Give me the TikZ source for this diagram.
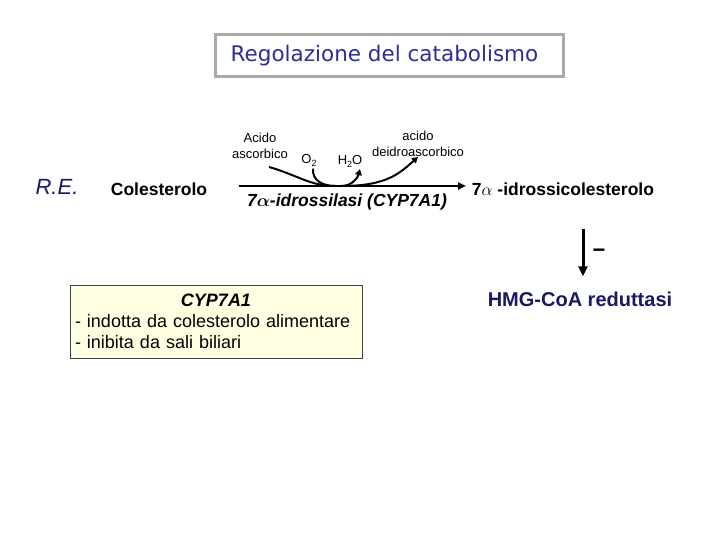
\documentclass[tikz,border=0pt]{standalone}
\usepackage{fontspec}
\setmainfont{Liberation Sans}
\newfontfamily\titlefont{DejaVu Sans}
\usepackage{tikz}
\usetikzlibrary{arrows.meta, positioning, calc}
\usepackage{xcolor}
\definecolor{titleblue}{RGB}{45,45,155}
\definecolor{darknavy}{RGB}{25,25,100}
\definecolor{framegray}{RGB}{170,170,170}
\definecolor{noteyellow}{RGB}{255,255,226}
\newcommand{\lowsub}[1]{\raisebox{-0.35ex}{\fontsize{9}{9}\selectfont #1}}
\tikzstyle{titlebox} = [
    rectangle, draw=framegray, line width=2.5pt, fill=white,
    minimum width=348pt, minimum height=42pt,
    font=\titlefont\fontsize{21.5}{25}\selectfont, text=titleblue
]
\tikzstyle{metab} = [inner sep=0pt, anchor=base, font=\fontsize{17.5}{21}\selectfont\bfseries]
\tikzstyle{cofactor} = [inner sep=0pt, align=center, font=\fontsize{13}{16}\selectfont]
\tikzstyle{notebox} = [
    rectangle, draw=black!75, fill=noteyellow, line width=0.6pt,
    minimum width=292pt, minimum height=73pt, text width=282pt,
    inner xsep=5pt, font=\fontsize{18}{21}\selectfont
]
\tikzstyle{arrow} = [-{Triangle[length=8pt, width=7pt]}, line width=2pt]
\tikzstyle{curveline} = [line width=2pt]
\tikzstyle{curvearrow} = [-{Triangle[length=6pt, width=6.5pt]}, line width=2pt]
\tikzstyle{inhib} = [-{Triangle[length=10pt, width=9pt]}, line width=3pt]
\begin{document}
\begin{tikzpicture}[x=1pt, y=1pt]

    \fill[white] (0,0) rectangle (720,540);
    \useasboundingbox (0,0) rectangle (720,540);

    % Title
    \node[titlebox] (title) at (389.5,484.5) {\hspace*{-10pt}Regolazione del catabolismo};

    % Reaction
    \node[metab, font=\fontsize{22}{26}\selectfont\itshape, text=darknavy] (re) at (57,345) {R.E.};
    \node[metab] (chol) at (159,344) {Colesterolo};
    \node[metab] (prod) at (563,344) {7$\alpha$ -idrossicolesterolo};
    \coordinate (rxa) at (239,354);
    \coordinate (rxb) at (466,354);
    \coordinate (rxin) at (335,354);
    \coordinate (rxout) at (342,354);
    \draw[arrow] (rxa) -- (rxb);
    \node[metab, font=\fontsize{17.5}{21}\selectfont\bfseries\itshape\boldmath] (enz) at (347,333) {7$\alpha$-idrossilasi (CYP7A1)};

    % Cofactors
    \node[cofactor] (asc) at (260,394) {Acido\\ascorbico};
    \node[cofactor, anchor=base] (o2) at (309,376) {O\lowsub{2}};
    \node[cofactor, anchor=base] (h2o) at (350,375) {H\lowsub{2}O};
    \node[cofactor] (dha) at (418,396) {acido\\deidroascorbico};

    \draw[curveline] ([xshift=9pt, yshift=-8pt]asc.south) .. controls +(28,-8) and +(-25,0) .. (rxin);
    \draw[curveline] ([xshift=4pt, yshift=-2pt]o2.south) .. controls +(-1,-12) and +(-12,0) .. (rxin);
    \draw[curvearrow] (rxout) .. controls +(10,0) and +(-2,-8) .. ([xshift=10pt, yshift=-1.5pt]h2o.south);
    \draw[curvearrow] (rxout) .. controls +(45,0) and +(-18,-16) .. (dha.south);

    % Inhibition
    \node[metab, font=\fontsize{20}{24}\selectfont\bfseries, text=darknavy] (hmg) at (580,233) {HMG-CoA reduttasi};
    \coordinate (inhtop) at (583,311);
    \draw[inhib, shorten >=16pt] (inhtop) -- (inhtop |- hmg.north);
    \node[metab, font=\fontsize{22}{26}\selectfont\bfseries] (minus) at (599,282) {−};

    % Note
    \node[notebox] (note) at (216,218.5) {\centering\textbf{\textit{CYP7A1}}\par\raggedright - indotta da colesterolo alimentare\\- inibita da sali biliari};

\end{tikzpicture}
\end{document}
